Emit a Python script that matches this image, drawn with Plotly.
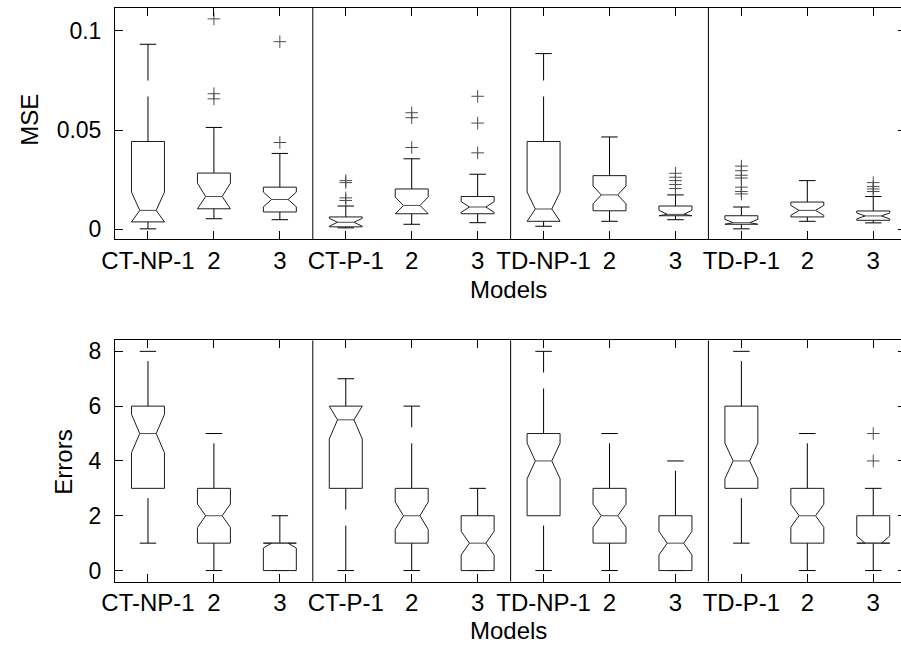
import plotly.graph_objects as go

# ---------------- data ----------------
positions = list(range(1, 13))
tick_text = ["CT-NP-1", "2", "3", "CT-P-1", "2", "3",
             "TD-NP-1", "2", "3", "TD-P-1", "2", "3"]
separators = [3.5, 6.5, 9.5]

# MSE panel statistics
mse_q1 = [0.0037, 0.0103, 0.0087, 0.0012, 0.0078, 0.0078, 0.0040, 0.0093, 0.0068, 0.0025, 0.0062, 0.0045]
mse_med = [0.0095, 0.0165, 0.0150, 0.0035, 0.0120, 0.0112, 0.0102, 0.0173, 0.0075, 0.0033, 0.0095, 0.0067]
mse_q3 = [0.0442, 0.0283, 0.0212, 0.0062, 0.0203, 0.0165, 0.0442, 0.0270, 0.0117, 0.0068, 0.0137, 0.0092]
mse_notch = [0.0092, 0.0067, 0.0037, 0.0020, 0.0042, 0.0027, 0.0085, 0.0045, 0.0020, 0.0017, 0.0025, 0.0015]
mse_lo = [0.0002, 0.0053, 0.0048, 0.0007, 0.0025, 0.0033, 0.0015, 0.0040, 0.0048, 0.0002, 0.0040, 0.0032]
mse_hi = [0.0932, 0.0513, 0.0382, 0.0117, 0.0355, 0.0277, 0.0885, 0.0465, 0.0173, 0.0112, 0.0245, 0.0165]
mse_out = [
    [],
    [0.1060, 0.0683, 0.0657],
    [0.0945, 0.0437],
    [0.0245, 0.0235, 0.0158, 0.0145],
    [0.0587, 0.0562, 0.0412],
    [0.0670, 0.0535, 0.0385],
    [],
    [],
    [0.0282, 0.0262, 0.0245, 0.0225, 0.0205],
    [0.0318, 0.0295, 0.0272, 0.0258, 0.0212, 0.0190, 0.0178],
    [],
    [0.0235, 0.0215, 0.0203, 0.0190],
]

# Errors panel statistics
err_q1 = [3, 1, 0, 3, 1, 0, 2, 1, 0, 3, 1, 1]
err_med = [5, 2, 1, 5.5, 2, 1, 4, 2, 1, 4, 2, 1]
err_q3 = [6, 3, 1, 6, 3, 2, 5, 3, 2, 6, 3, 2]
err_notch = [0.70, 0.43, 0.18, 0.70, 0.50, 0.43, 0.65, 0.42, 0.43, 0.65, 0.42, 0.26]
err_lo = [1, 0, 0, 0, 0, 0, 0, 0, 0, 1, 0, 0]
err_hi = [8, 5, 2, 7, 6, 3, 8, 5, 4, 8, 5, 3]
err_out = [[], [], [], [], [], [], [], [], [], [], [], [4, 5]]

# ---------------- styling ----------------
FONT = "Liberation Sans"
BOX_COLOR = "#1d1d1d"
MED_COLOR = "#4c4c4c"
WHISK_COLOR = "#000000"
HALF_W = 0.25
NOTCH_W = 0.125
CAP_W = 0.125


def box_paths(q1, med, q3, notch, lo, hi, outs):
    bx, by, mx, my, wx, wy, cx, cy, ox, oy = [], [], [], [], [], [], [], [], [], []
    for p, a, m, b, n, l, h, o in zip(positions, q1, med, q3, notch, lo, hi, outs):
        nlo = max(m - n, a)
        nhi = min(m + n, b)
        bx += [p - HALF_W, p - HALF_W, p - NOTCH_W, p - HALF_W, p - HALF_W,
               p + HALF_W, p + HALF_W, p + NOTCH_W, p + HALF_W, p + HALF_W, p - HALF_W, None]
        by += [a, nlo, m, nhi, b, b, nhi, m, nlo, a, a, None]
        mx += [p - NOTCH_W, p + NOTCH_W, None]
        my += [m, m, None]
        # upper whisker drawn from box upward, lower from cap upward
        wx += [p, p, None, p, p, None]
        wy += [b, h, None, l, a, None]
        cx += [p - CAP_W, p + CAP_W, None, p - CAP_W, p + CAP_W, None]
        cy += [h, h, None, l, l, None]
        ox += [p] * len(o)
        oy += list(o)
    return bx, by, mx, my, wx, wy, cx, cy, ox, oy


fig = go.Figure()


def add_panel(stats, xa, ya):
    bx, by, mx, my, wx, wy, cx, cy, ox, oy = box_paths(*stats)
    fig.add_trace(go.Scatter(x=wx, y=wy, mode="lines", xaxis=xa, yaxis=ya,
                             line=dict(color=WHISK_COLOR, width=1, dash="45px,16px"),
                             hoverinfo="skip", showlegend=False))
    fig.add_trace(go.Scatter(x=cx, y=cy, mode="lines", xaxis=xa, yaxis=ya,
                             line=dict(color=WHISK_COLOR, width=1),
                             hoverinfo="skip", showlegend=False))
    fig.add_trace(go.Scatter(x=bx, y=by, mode="lines", xaxis=xa, yaxis=ya,
                             line=dict(color=BOX_COLOR, width=1),
                             hoverinfo="skip", showlegend=False))
    fig.add_trace(go.Scatter(x=mx, y=my, mode="lines", xaxis=xa, yaxis=ya,
                             line=dict(color=MED_COLOR, width=1),
                             hoverinfo="skip", showlegend=False))
    fig.add_trace(go.Scatter(x=ox, y=oy, mode="markers", xaxis=xa, yaxis=ya,
                             marker=dict(symbol="cross-thin", size=9,
                                         line=dict(color=MED_COLOR, width=1)),
                             hoverinfo="skip", showlegend=False))


add_panel((mse_q1, mse_med, mse_q3, mse_notch, mse_lo, mse_hi, mse_out), "x", "y")
add_panel((err_q1, err_med, err_q3, err_notch, err_lo, err_hi, err_out), "x2", "y2")

# invisible traces so the right-side tick axes exist
fig.add_trace(go.Scatter(x=[None], y=[None], xaxis="x", yaxis="y3", showlegend=False, hoverinfo="skip"))
fig.add_trace(go.Scatter(x=[None], y=[None], xaxis="x2", yaxis="y4", showlegend=False, hoverinfo="skip"))

W, H = 901, 650
PX_PER_UNIT = 66.9
left_px = 103.5
x_range = [0.5, 0.5 + (W - left_px) / PX_PER_UNIT]
x_dom = [left_px / W, 1.0]
top_dom = [(H - 239) / H, (H - 6) / H]
bot_dom = [(H - 584) / H, (H - 341) / H]
mse_range = [-0.005, 0.1115]
err_range = [-0.4, 8.4]

xtick_font = dict(family=FONT, size=24, color="black")
ytick_font = dict(family=FONT, size=23, color="black")

xcommon = dict(range=x_range, domain=x_dom, tickmode="array", tickvals=positions,
               ticktext=tick_text, ticks="inside", ticklen=8, tickcolor="black",
               showline=True, linecolor="black", linewidth=1, mirror="ticks",
               showgrid=False, zeroline=False, tickfont=xtick_font,
               ticklabelstandoff=0, fixedrange=True)
ycommon = dict(ticks="inside", ticklen=8, tickcolor="black", showline=True,
               linecolor="black", linewidth=1, mirror=False, showgrid=False,
               zeroline=False, tickfont=ytick_font, ticklabelstandoff=8, fixedrange=True)

fig.update_layout(
    width=W, height=H,
    margin=dict(l=0, r=0, t=0, b=0),
    paper_bgcolor="white", plot_bgcolor="white",
    font=dict(family=FONT, color="black"),
    xaxis=dict(anchor="y", **xcommon),
    xaxis2=dict(anchor="y2", **xcommon),
    yaxis=dict(domain=top_dom, range=mse_range, tickvals=[0, 0.05, 0.1],
               ticktext=["0", "0.05", "0.1"], anchor="x", **ycommon),
    yaxis2=dict(domain=bot_dom, range=err_range, tickvals=[0, 2, 4, 6, 8],
                ticktext=["0", "2", "4", "6", "8"], anchor="x2", **ycommon),
    yaxis3=dict(overlaying="y", side="right", anchor="x", range=mse_range,
                tickvals=[0, 0.05, 0.1], ticks="inside", ticklen=3, tickcolor="black",
                showticklabels=False, showline=False, showgrid=False, zeroline=False,
                fixedrange=True),
    yaxis4=dict(overlaying="y2", side="right", anchor="x2", range=err_range,
                tickvals=[0, 2, 4, 6, 8], ticks="inside", ticklen=3, tickcolor="black",
                showticklabels=False, showline=False, showgrid=False, zeroline=False,
                fixedrange=True),
)

# group separators
for s in separators:
    for xr, yr in (("x", "y domain"), ("x2", "y2 domain")):
        fig.add_shape(type="line", xref=xr, yref=yr, x0=s, x1=s, y0=0, y1=1,
                      line=dict(color="black", width=1))

title_font = dict(family=FONT, size=24, color="black")
x_mid = (left_px + W) / 2 / W
fig.add_annotation(text="Models", xref="paper", yref="paper", x=x_mid, y=(H - 290) / H,
                   showarrow=False, font=title_font, xanchor="center", yanchor="middle")
fig.add_annotation(text="Models", xref="paper", yref="paper", x=x_mid, y=(H - 633) / H,
                   showarrow=False, font=title_font, xanchor="center", yanchor="middle")
fig.add_annotation(text="MSE", xref="paper", yref="paper", x=16 / W, y=(H - 119) / H,
                   showarrow=False, font=title_font, textangle=-90,
                   xanchor="center", yanchor="middle")
fig.add_annotation(text="Errors", xref="paper", yref="paper", x=51 / W, y=(H - 464) / H,
                   showarrow=False, font=title_font, textangle=-90,
                   xanchor="center", yanchor="middle")

fig.write_html("out.html")
